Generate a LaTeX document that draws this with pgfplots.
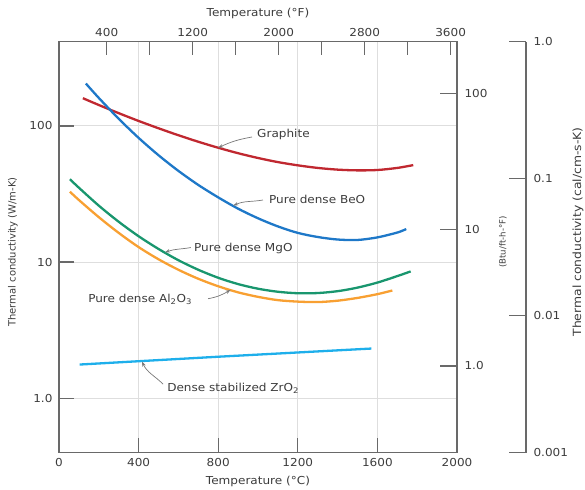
\documentclass[border=0pt]{standalone}
\usepackage{fontspec}
\setmainfont{DejaVu Sans}[FakeStretch=1.1]
\newfontfamily\narrowfont{DejaVu Sans}
\usepackage{pgfplots}
\pgfplotsset{compat=1.18}
\usetikzlibrary{arrows.meta}
\definecolor{txt}{RGB}{60,60,60}
\definecolor{framec}{RGB}{105,105,105}
\definecolor{gridc}{RGB}{222,222,222}
\definecolor{arrc}{RGB}{120,120,120}
\definecolor{cgraph}{RGB}{192,40,48}
\definecolor{cbeo}{RGB}{30,120,200}
\definecolor{cmgo}{RGB}{25,150,110}
\definecolor{calo}{RGB}{248,160,50}
\definecolor{czr}{RGB}{30,175,235}
\newcommand\fs[1]{\fontsize{#1}{#1}\selectfont}
\pgfplotsset{
  basebox/.style={scale only axis, width=398bp, height=411bp, at={(0,0)}, anchor=south west,
    axis line style={framec, line width=1.3bp},
    tick style={framec, line width=1.3bp},
    minor tick length=0pt,
    tick label style={txt, font=\fs{11}},
    /pgf/number format/assume math mode=true},
}
\tikzset{
  arr/.style={arrc, line width=0.7bp, -{Stealth[length=5bp,width=3.5bp]}},
  ann/.style={anchor=west, inner sep=0pt, txt, font=\fs{11}},
  crv/.style={line width=2.3bp, smooth}
}
\begin{document}
\begin{tikzpicture}[x=1bp,y=1bp]
\useasboundingbox (-59,-37.3) rectangle (526,452.7);
% main axis (deg C, W/m-K)
\begin{axis}[basebox,
  xmin=0, xmax=2000, ymode=log, ymin=0.3986, ymax=416,
  xtick={0,400,800,1200,1600,2000}, xticklabels={0,400,800,1200,1600,2000},
  ytick={1,10,100}, yticklabels={1.0,10,100},
  xtick pos=bottom, ytick pos=left, tick align=inside,
  major tick length=15bp,
  xmajorgrids, ymajorgrids, major grid style={gridc, line width=1bp},
  xticklabel style={yshift=-2bp},
  yticklabel style={xshift=-3bp},
]
% Graphite
\addplot[cgraph, crv] coordinates {
 (120,160) (200,142.6) (300,124.2) (400,108.9) (500,96.2) (600,85.5) (700,76.6)
 (800,69.2) (900,63.1) (1000,58.2) (1100,54.3) (1200,51.4) (1300,49.2)
 (1400,47.8) (1500,47.2) (1600,47.5) (1700,49.2) (1780,51.6)};
% BeO
\addplot[cbeo, crv] coordinates {
 (135,205) (200,160.7) (300,113) (400,81.8) (500,61) (600,46.8) (700,36.9)
 (800,29.9) (900,24.7) (1000,21.0) (1100,18.3) (1200,16.4) (1300,15.3)
 (1400,14.66) (1500,14.55) (1600,15.2) (1700,16.5) (1745,17.5)};
% MgO
\addplot[cmgo, crv] coordinates {
 (55,40.6) (100,35.2) (200,26.0) (300,19.8) (400,15.5) (500,12.5) (600,10.33)
 (700,8.79) (800,7.68) (900,6.90) (1000,6.38) (1100,6.06) (1200,5.91)
 (1300,5.93) (1400,6.12) (1500,6.50) (1600,7.08) (1700,7.9) (1767,8.55)};
% Al2O3
\addplot[calo, crv] coordinates {
 (55,32.9) (100,28.6) (200,21.4) (300,16.4) (400,12.9) (500,10.5) (600,8.79)
 (700,7.55) (800,6.65) (900,6.0) (1000,5.56) (1100,5.26) (1200,5.13)
 (1300,5.09) (1400,5.21) (1500,5.46) (1600,5.82) (1675,6.19)};
% ZrO2
\addplot[czr, line width=2.3bp] coordinates {
 (104,1.77) (800,2.02) (1570,2.32)};
% annotations
\node[ann] at (axis cs:995,85.9) {Graphite};
\draw[arr] (axis cs:970,83) to[out=190,in=25] (axis cs:800,69.2);
\node[ann] at (axis cs:1055,28.8) {Pure dense BeO};
\draw[arr] (axis cs:1025,28.6) to[out=190,in=25] (axis cs:876,26.0);
\node[ann] at (axis cs:678,12.6) {Pure dense MgO};
\draw[arr] (axis cs:663,12.8) to[out=190,in=20] (axis cs:533,11.8);
\node[ann] at (axis cs:146,5.30) {Pure dense Al\textsubscript{2}O\textsubscript{3}};
\draw[arr] (axis cs:749,5.39) to[out=10,in=210] (axis cs:862,6.25);
\node[ann] at (axis cs:543,1.184) {Dense stabilized ZrO\textsubscript{2}};
\draw[arr] (axis cs:523,1.27) to[out=135,in=-65] (axis cs:417,1.86);
\end{axis}
% top axis (deg F)
\begin{axis}[basebox,
  xmin=-44, xmax=3659, ymin=0, ymax=1,
  axis x line*=top, axis y line=none,
  xtick={400,800,1200,1600,2000,2400,2800,3200,3600},
  xticklabels={400,,1200,,2000,,2800,,3600},
  tick align=inside, major tick length=13bp,
  xticklabel style={yshift=1.5bp},
]
\end{axis}
% right inner axis (Btu/ft-h-F)
\begin{axis}[basebox,
  xmin=0, xmax=1, ymode=log, ymin=0.2303, ymax=240.4,
  axis y line*=right, axis x line=none,
  ytick={1,10,100}, yticklabels={1.0,10,100},
  tick align=inside, major tick length=17bp,
  yticklabel style={xshift=4bp},
]
\end{axis}
% far right axis (cal/cm-s-K)
\begin{axis}[basebox, width=467bp,
  xmin=0, xmax=1, ymode=log, ymin=0.001, ymax=1,
  axis y line*=right, axis x line=none,
  ytick={0.001,0.01,0.1,1}, yticklabels={0.001,0.01,0.1,1.0},
  tick align=inside, major tick length=17bp,
  yticklabel style={xshift=4bp},
]
\end{axis}
% axis titles
\node[txt, font=\fs{11}] at (199,-29) {Temperature (°C)};
\node[txt, font=\fs{11}] at (199,439.7) {Temperature (°F)};
\node[txt, rotate=90, font=\narrowfont\fs{10}] at (-46,200.7) {Thermal conductivity (W/m-K)};
\node[txt, rotate=90, font=\narrowfont\fs{8.6}] at (444,210.7) {(Btu/ft-h-°F)};
\node[txt, rotate=90, font=\fs{11.3}] at (519,220.7) {Thermal conductivity (cal/cm-s-K)};
\end{tikzpicture}
\end{document}
